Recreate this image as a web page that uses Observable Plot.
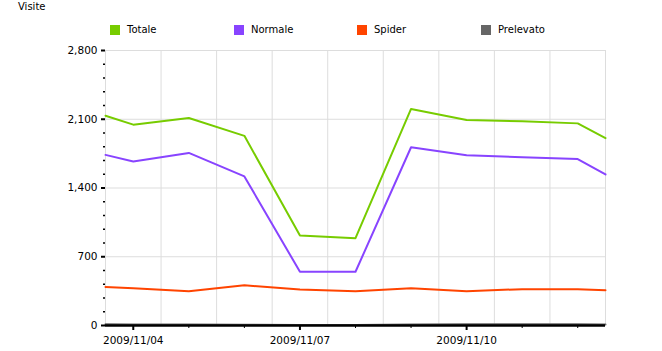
<!DOCTYPE html>
<html>
<head>
<meta charset="utf-8">
<script src="https://cdn.jsdelivr.net/npm/d3@7"></script>
<script src="https://cdn.jsdelivr.net/npm/@observablehq/plot@0.6"></script>
<style>
  html, body { margin: 0; padding: 0; background: #fff; }
  #wrap { position: relative; width: 662px; height: 351px; font-family: "DejaVu Sans", Verdana, sans-serif; color: #000; overflow: hidden; }
  #title { position: absolute; left: 18px; top: 1px; font-size: 10px; }
  .leg { position: absolute; top: 24px; display: flex; align-items: center; font-size: 10px; }
  .sw { width: 10px; height: 10px; margin-right: 7px; }
  #chart { position: absolute; left: 0; top: 40px; }
</style>
</head>
<body>
<div id="wrap">
  <div id="title">Visite</div>
  <div id="legend"></div>
  <div id="chart"></div>
</div>
<script>
// Dates (first and last entries are the visible edges of the chart)
const dates = ["2009-11-03T12:00Z","2009-11-04","2009-11-05","2009-11-06","2009-11-07","2009-11-08","2009-11-09","2009-11-10","2009-11-11","2009-11-12","2009-11-12T12:00Z"];
const totale    = [2136, 2045, 2113, 1931, 916, 889, 2205, 2092, 2080, 2058, 1908];
const normale   = [1737, 1669, 1757, 1518, 547, 547, 1815, 1733, 1713, 1695, 1538];
const spider    = [393, 380, 349, 410, 366, 349, 380, 349, 370, 370, 359];
const prelevato = [12, 10, 10, 8, 5, 5, 10, 12, 12, 14, 10];

const seriesNames = ["Totale", "Normale", "Spider", "Prelevato"];
const seriesValues = [totale, normale, spider, prelevato];
const seriesColors = ["#77cc00", "#8844ff", "#ff4400", "#666666"];
const legendLefts = [110, 234, 357, 481];

const majorYTicks = [0, 700, 1400, 2100, 2800];
const minorYTicks = d3.range(0, 2801, 140).filter(v => v % 700 !== 0);
const majorXTicks = ["2009-11-04", "2009-11-07", "2009-11-10"];
const minorXTicks = ["2009-11-05", "2009-11-06", "2009-11-08", "2009-11-09", "2009-11-11", "2009-11-12"];
const gridXDates = ["2009-11-03T12:00Z","2009-11-04T12:00Z","2009-11-05T12:00Z","2009-11-06T12:00Z","2009-11-07T12:00Z","2009-11-08T12:00Z","2009-11-09T12:00Z","2009-11-10T12:00Z","2009-11-11T12:00Z","2009-11-12T12:00Z"];

const parse = s => new Date(s.length === 10 ? s + "T00:00Z" : s);

const rows = [];
seriesNames.forEach((name, i) => {
  dates.forEach((d, j) => rows.push({series: name, date: parse(d), value: seriesValues[i][j]}));
});

// legend
const legend = document.getElementById("legend");
seriesNames.forEach((name, i) => {
  const item = document.createElement("div");
  item.className = "leg";
  item.style.left = legendLefts[i] + "px";
  item.innerHTML = `<div class="sw" style="background:${seriesColors[i]}"></div><span>${name}</span>`;
  legend.appendChild(item);
});

const chart = Plot.plot({
  width: 662,
  height: 311,
  marginTop: 10,
  marginBottom: 26,
  marginLeft: 105,
  marginRight: 57,
  style: {fontFamily: "'DejaVu Sans', Verdana, sans-serif", fontSize: "10.5px", background: "white", color: "black", overflow: "visible"},
  x: {type: "utc", domain: [parse(dates[0]), parse(dates[dates.length - 1])]},
  y: {domain: [0, 2800]},
  color: {domain: seriesNames, range: seriesColors},
  marks: [
    Plot.ruleY(majorYTicks.filter(v => v > 0), {stroke: "#dddddd", strokeWidth: 1}),
    Plot.ruleX(gridXDates.map(parse), {stroke: "#dddddd", strokeWidth: 1}),
    Plot.line(rows, {x: "date", y: "value", z: "series", stroke: "series", strokeWidth: 2}),
    Plot.ruleY([0], {stroke: "black", strokeWidth: 2.5}),
    Plot.axisY(majorYTicks, {tickSize: 4, tickPadding: 4, strokeWidth: 2, tickFormat: d3.format(","), label: null}),
    Plot.axisY(minorYTicks, {tickSize: 2, tickPadding: 0, strokeWidth: 1.5, text: null, label: null}),
    Plot.axisX(majorXTicks.map(parse), {tickSize: 5, tickPadding: 6, strokeWidth: 2, tickFormat: d3.utcFormat("%Y/%m/%d"), label: null}),
    Plot.axisX(minorXTicks.map(parse), {tickSize: 3, tickPadding: 0, strokeWidth: 1, text: null, label: null})
  ]
});
document.getElementById("chart").appendChild(chart);
</script>
</body>
</html>
